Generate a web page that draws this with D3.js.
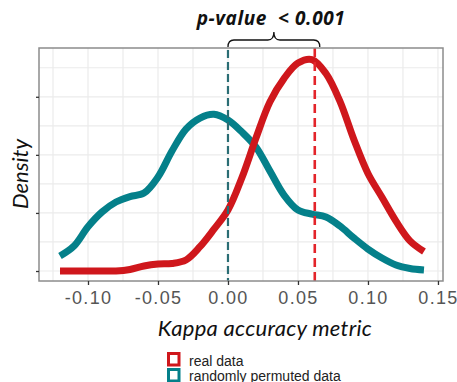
<!DOCTYPE html>
<html>
<head>
<meta charset="utf-8">
<script src="https://cdn.jsdelivr.net/npm/d3@7"></script>
<style>
  html, body { margin: 0; padding: 0; background: #fff; }
  svg { display: block; }
</style>
</head>
<body>
<div id="chart"></div>
<script>
// kappa values (x) and density estimates
const kappa = [-0.12, -0.11, -0.10, -0.09, -0.08, -0.07, -0.06, -0.05, -0.04, -0.03,
               -0.02, -0.01, 0.00, 0.01, 0.02, 0.03, 0.04, 0.05, 0.06, 0.07,
               0.08, 0.09, 0.10, 0.11, 0.12, 0.13, 0.14];
const realDensity = [0, 0, 0, 0, 0, 0.13, 0.43, 0.6, 0.65, 0.95,
                     2.09, 3.6, 5.25, 8.05, 11.45, 14.57, 16.57, 17.9, 18.2, 17.0,
                     14.6, 11.3, 8.4, 6.35, 4.3, 2.6, 1.68];
const permDensity = [1.29, 2.15, 3.81, 5.08, 5.94, 6.41, 6.71, 8.09, 10.33, 12.22,
                     13.17, 13.49, 13.0, 11.96, 10.67, 8.6, 6.54, 5.25, 4.9, 4.65,
                     3.87, 2.84, 1.89, 1.12, 0.52, 0.22, 0.09];

const xTicks = [-0.10, -0.05, 0.00, 0.05, 0.10, 0.15];
const xMinor = [-0.125, -0.075, -0.025, 0.025, 0.075, 0.125];
const yTicks = [0, 5, 10, 15];
const yMinor = [2.5, 7.5, 12.5, 17.5];

const permMean = 0.0;
const realMean = 0.062;

const seriesNames = ["real data", "randomly permuted data"];
const colors = { real: "#cf171c", perm: "#04808a" };

const W = 457, H = 382;
const pLeft = 39, pRight = 443, pTop = 48, pBottom = 281;

const svg = d3.select("#chart")
    .append("svg")
    .attr("width", W)
    .attr("height", H);

const x = d3.scaleLinear()
    .domain([-0.135, 0.1536])
    .range([pLeft, pRight]);

const y = d3.scaleLinear()
    .domain([-0.86, 19.2])
    .range([pBottom, pTop]);

// grid
const grid = svg.append("g");
grid.selectAll(".vgrid")
    .data(xTicks.concat(xMinor))
    .enter()
    .append("line")
    .attr("x1", d => x(d)).attr("x2", d => x(d))
    .attr("y1", pTop).attr("y2", pBottom)
    .attr("stroke", "#ebebeb")
    .attr("stroke-width", 1.2);
grid.selectAll(".hgrid")
    .data(yTicks.concat(yMinor))
    .enter()
    .append("line")
    .attr("y1", d => y(d)).attr("y2", d => y(d))
    .attr("x1", pLeft).attr("x2", pRight)
    .attr("stroke", "#ebebeb")
    .attr("stroke-width", 1.2);

// density curves
const line = d3.line()
    .x(d => x(d[0]))
    .y(d => y(d[1]))
    .curve(d3.curveCatmullRom);

svg.append("path")
    .datum(kappa.map((k, i) => [k, permDensity[i]]))
    .attr("d", line)
    .attr("fill", "none")
    .attr("stroke", colors.perm)
    .attr("stroke-width", 7);

svg.append("path")
    .datum(kappa.map((k, i) => [k, realDensity[i]]))
    .attr("d", line)
    .attr("fill", "none")
    .attr("stroke", colors.real)
    .attr("stroke-width", 7);

// mean lines
svg.append("line")
    .attr("x1", x(permMean)).attr("x2", x(permMean))
    .attr("y1", pTop + 2).attr("y2", pBottom)
    .attr("stroke", "#2a6d74")
    .attr("stroke-width", 2.2)
    .attr("stroke-dasharray", "8,4");

svg.append("line")
    .attr("x1", x(realMean)).attr("x2", x(realMean))
    .attr("y1", pTop).attr("y2", pBottom)
    .attr("stroke", "#e3242a")
    .attr("stroke-width", 2.6)
    .attr("stroke-dasharray", "9,5");

// panel border
svg.append("rect")
    .attr("x", pLeft).attr("y", pTop)
    .attr("width", pRight - pLeft).attr("height", pBottom - pTop)
    .attr("fill", "none")
    .attr("stroke", "#8c8c8c")
    .attr("stroke-width", 1.5);

// axes
const xAxis = svg.append("g")
    .attr("transform", `translate(0,${pBottom})`)
    .call(d3.axisBottom(x).tickValues(xTicks).tickSize(4).tickPadding(6));
xAxis.select(".domain").remove();
xAxis.selectAll("line").attr("stroke", "#333").attr("stroke-width", 1.3);
xAxis.selectAll("text")
    .attr("fill", "#555")
    .style("font-family", "'Liberation Sans', Arial, sans-serif")
    .style("font-size", "18px")
    .style("letter-spacing", "1.3px")
    .text(d => d3.format(".2f")(d).replace("\u2212", "-"));

const yAxis = svg.append("g")
    .attr("transform", `translate(${pLeft},0)`)
    .call(d3.axisLeft(y).tickValues(yTicks).tickSize(3).tickFormat(""));
yAxis.select(".domain").remove();
yAxis.selectAll("line").attr("stroke", "#333").attr("stroke-width", 1.3);

// axis titles
svg.append("text")
    .attr("x", 265)
    .attr("y", 336)
    .attr("text-anchor", "middle")
    .style("font-family", "Lato, 'Open Sans', sans-serif")
    .style("font-style", "italic")
    .style("font-size", "22px")
    .style("letter-spacing", "0.3px")
    .attr("fill", "#111")
    .text("Kappa accuracy metric");

svg.append("text")
    .attr("transform", "translate(28,174) rotate(-90)")
    .attr("text-anchor", "middle")
    .style("font-family", "Lato, 'Open Sans', sans-serif")
    .style("font-style", "italic")
    .style("font-size", "22px")
    .attr("fill", "#111")
    .text("Density");

// brace + p-value annotation
const bx0 = x(permMean), bx1 = x(realMean) + 5, bm = (bx0 + bx1) / 2;
svg.append("path")
    .attr("d", `M${bx0},47 Q${bx0},40 ${bx0 + 6},40 L${bm - 6},40 Q${bm},40 ${bm},32 ` +
               `Q${bm},40 ${bm + 6},40 L${bx1 - 6},40 Q${bx1},40 ${bx1},47`)
    .attr("fill", "none")
    .attr("stroke", "#111")
    .attr("stroke-width", 1.3);

svg.append("text")
    .attr("x", 271)
    .attr("y", 25)
    .attr("text-anchor", "middle")
    .style("font-family", "'Open Sans', Lato, sans-serif")
    .style("font-style", "italic")
    .style("font-weight", "bold")
    .style("font-size", "19px")
    .style("letter-spacing", "0.6px")
    .style("white-space", "pre")
    .attr("fill", "#111")
    .text("p-value  < 0.001");

// legend
const legend = svg.append("g");
const legendColors = [colors.real, colors.perm];
legend.selectAll("rect")
    .data(seriesNames)
    .enter()
    .append("rect")
    .attr("x", 168.5)
    .attr("y", (d, i) => 353.5 + i * 16)
    .attr("width", 10.5)
    .attr("height", 11.5)
    .attr("fill", "#fff")
    .attr("stroke", (d, i) => legendColors[i])
    .attr("stroke-width", 3);
legend.selectAll("text")
    .data(seriesNames)
    .enter()
    .append("text")
    .attr("x", 189)
    .attr("y", (d, i) => 366 + i * 14.5)
    .style("font-family", "'Liberation Sans', Arial, sans-serif")
    .style("font-size", "14px")
    .attr("fill", "#222")
    .text(d => d);
</script>
</body>
</html>
